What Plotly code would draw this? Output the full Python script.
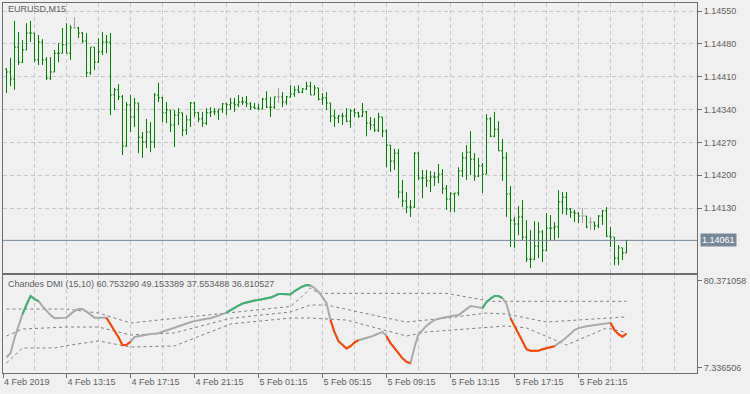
import plotly.graph_objects as go

# ---------------- data ----------------
bar_open = [1.14426, 1.14420, 1.14405, 1.14473, 1.14441, 1.14467, 1.14503, 1.14503, 1.14446, 1.14484,
            1.14446, 1.14407, 1.14420, 1.14460, 1.14460, 1.14478, 1.14460, 1.14514, 1.14514, 1.14503,
            1.14486, 1.14418, 1.14473, 1.14441, 1.14463, 1.14484, 1.14484, 1.14371, 1.14382, 1.14367,
            1.14262, 1.14350, 1.14324, 1.14354, 1.14281, 1.14271, 1.14292, 1.14271, 1.14371, 1.14365,
            1.14333, 1.14339, 1.14307, 1.14328, 1.14333, 1.14296, 1.14318, 1.14354, 1.14333, 1.14320,
            1.14311, 1.14333, 1.14335, 1.14335, 1.14341, 1.14352, 1.14350, 1.14354, 1.14350, 1.14356,
            1.14356, 1.14352, 1.14345, 1.14343, 1.14341, 1.14362, 1.14345, 1.14345, 1.14367, 1.14367,
            1.14356, 1.14367, 1.14373, 1.14382, 1.14377, 1.14384, 1.14390, 1.14371, 1.14386, 1.14362,
            1.14365, 1.14354, 1.14326, 1.14322, 1.14326, 1.14326, 1.14315, 1.14337, 1.14333, 1.14326,
            1.14335, 1.14311, 1.14307, 1.14296, 1.14324, 1.14294, 1.14264, 1.14230, 1.14247, 1.14164,
            1.14145, 1.14132, 1.14132, 1.14247, 1.14194, 1.14194, 1.14188, 1.14196, 1.14196, 1.14202,
            1.14171, 1.14149, 1.14160, 1.14162, 1.14209, 1.14237, 1.14249, 1.14234, 1.14198, 1.14220,
            1.14202, 1.14320, 1.14283, 1.14298, 1.14252, 1.14237, 1.14160, 1.14104, 1.14096, 1.14111,
            1.14068, 1.14021, 1.14021, 1.14049, 1.14079, 1.14040, 1.14087, 1.14087, 1.14090, 1.14143,
            1.14153, 1.14128, 1.14121, 1.14119, 1.14113, 1.14113, 1.14100, 1.14100, 1.14092, 1.14113,
            1.14124, 1.14070, 1.14068, 1.14023, 1.14045, 1.14034]
bar_high = [1.14428, 1.14450, 1.14529, 1.14505, 1.14488, 1.14524, 1.14529, 1.14503, 1.14499, 1.14490,
            1.14452, 1.14452, 1.14467, 1.14482, 1.14514, 1.14524, 1.14520, 1.14537, 1.14516, 1.14505,
            1.14503, 1.14473, 1.14473, 1.14492, 1.14505, 1.14499, 1.14503, 1.14386, 1.14394, 1.14371,
            1.14356, 1.14371, 1.14365, 1.14354, 1.14292, 1.14320, 1.14313, 1.14375, 1.14397, 1.14367,
            1.14356, 1.14339, 1.14339, 1.14343, 1.14333, 1.14328, 1.14356, 1.14356, 1.14335, 1.14335,
            1.14343, 1.14345, 1.14343, 1.14341, 1.14354, 1.14354, 1.14365, 1.14365, 1.14371, 1.14367,
            1.14369, 1.14356, 1.14354, 1.14352, 1.14365, 1.14379, 1.14367, 1.14367, 1.14386, 1.14377,
            1.14369, 1.14392, 1.14390, 1.14392, 1.14386, 1.14399, 1.14399, 1.14392, 1.14386, 1.14375,
            1.14377, 1.14354, 1.14339, 1.14328, 1.14333, 1.14343, 1.14341, 1.14343, 1.14335, 1.14354,
            1.14337, 1.14324, 1.14322, 1.14333, 1.14324, 1.14298, 1.14264, 1.14256, 1.14256, 1.14190,
            1.14164, 1.14147, 1.14249, 1.14249, 1.14211, 1.14211, 1.14209, 1.14207, 1.14224, 1.14213,
            1.14179, 1.14164, 1.14162, 1.14217, 1.14249, 1.14264, 1.14294, 1.14247, 1.14237, 1.14226,
            1.14330, 1.14324, 1.14335, 1.14315, 1.14277, 1.14249, 1.14177, 1.14111, 1.14134, 1.14147,
            1.14104, 1.14083, 1.14102, 1.14100, 1.14083, 1.14119, 1.14115, 1.14100, 1.14168, 1.14164,
            1.14164, 1.14130, 1.14126, 1.14121, 1.14130, 1.14113, 1.14111, 1.14100, 1.14115, 1.14126,
            1.14132, 1.14090, 1.14068, 1.14051, 1.14045, 1.14062]
bar_low = [1.14375, 1.14390, 1.14382, 1.14435, 1.14439, 1.14467, 1.14484, 1.14441, 1.14435, 1.14435,
           1.14403, 1.14403, 1.14420, 1.14441, 1.14460, 1.14460, 1.14446, 1.14514, 1.14492, 1.14482,
           1.14409, 1.14414, 1.14424, 1.14439, 1.14456, 1.14460, 1.14328, 1.14339, 1.14360, 1.14243,
           1.14260, 1.14292, 1.14303, 1.14247, 1.14237, 1.14258, 1.14249, 1.14258, 1.14356, 1.14313,
           1.14311, 1.14292, 1.14260, 1.14307, 1.14283, 1.14286, 1.14303, 1.14324, 1.14313, 1.14303,
           1.14307, 1.14324, 1.14328, 1.14318, 1.14333, 1.14328, 1.14339, 1.14335, 1.14345, 1.14350,
           1.14345, 1.14339, 1.14341, 1.14339, 1.14341, 1.14343, 1.14324, 1.14341, 1.14354, 1.14345,
           1.14350, 1.14365, 1.14367, 1.14375, 1.14375, 1.14382, 1.14371, 1.14371, 1.14360, 1.14350,
           1.14339, 1.14313, 1.14303, 1.14311, 1.14307, 1.14313, 1.14301, 1.14324, 1.14322, 1.14324,
           1.14283, 1.14296, 1.14292, 1.14292, 1.14281, 1.14217, 1.14207, 1.14211, 1.14151, 1.14132,
           1.14119, 1.14111, 1.14130, 1.14190, 1.14151, 1.14175, 1.14164, 1.14177, 1.14183, 1.14160,
           1.14126, 1.14121, 1.14121, 1.14156, 1.14196, 1.14190, 1.14200, 1.14188, 1.14196, 1.14162,
           1.14202, 1.14281, 1.14281, 1.14252, 1.14188, 1.14111, 1.14047, 1.14045, 1.14072, 1.14062,
           1.14015, 1.14002, 1.14019, 1.14023, 1.14015, 1.14038, 1.14062, 1.14062, 1.14066, 1.14117,
           1.14115, 1.14109, 1.14100, 1.14098, 1.14098, 1.14087, 1.14083, 1.14083, 1.14087, 1.14094,
           1.14068, 1.14047, 1.14008, 1.14008, 1.14019, 1.14034]
bar_close = [1.14420, 1.14405, 1.14473, 1.14441, 1.14467, 1.14503, 1.14503, 1.14446, 1.14484, 1.14446,
             1.14407, 1.14420, 1.14460, 1.14460, 1.14478, 1.14460, 1.14514, 1.14514, 1.14503, 1.14486,
             1.14418, 1.14473, 1.14441, 1.14463, 1.14484, 1.14484, 1.14371, 1.14382, 1.14367, 1.14262,
             1.14350, 1.14324, 1.14354, 1.14281, 1.14271, 1.14292, 1.14271, 1.14371, 1.14365, 1.14333,
             1.14339, 1.14307, 1.14328, 1.14333, 1.14296, 1.14318, 1.14354, 1.14333, 1.14320, 1.14311,
             1.14333, 1.14335, 1.14335, 1.14341, 1.14352, 1.14350, 1.14354, 1.14350, 1.14356, 1.14356,
             1.14352, 1.14345, 1.14343, 1.14341, 1.14362, 1.14345, 1.14345, 1.14367, 1.14367, 1.14356,
             1.14367, 1.14373, 1.14382, 1.14377, 1.14384, 1.14390, 1.14371, 1.14386, 1.14362, 1.14365,
             1.14354, 1.14326, 1.14322, 1.14326, 1.14326, 1.14315, 1.14337, 1.14333, 1.14326, 1.14335,
             1.14311, 1.14307, 1.14296, 1.14324, 1.14294, 1.14264, 1.14230, 1.14247, 1.14164, 1.14145,
             1.14132, 1.14132, 1.14247, 1.14194, 1.14194, 1.14188, 1.14196, 1.14196, 1.14202, 1.14171,
             1.14149, 1.14160, 1.14162, 1.14209, 1.14237, 1.14249, 1.14234, 1.14198, 1.14220, 1.14202,
             1.14320, 1.14283, 1.14298, 1.14252, 1.14237, 1.14160, 1.14104, 1.14096, 1.14111, 1.14068,
             1.14021, 1.14021, 1.14049, 1.14079, 1.14040, 1.14087, 1.14087, 1.14090, 1.14143, 1.14153,
             1.14128, 1.14121, 1.14119, 1.14113, 1.14113, 1.14090, 1.14100, 1.14092, 1.14113, 1.14124,
             1.14070, 1.14068, 1.14023, 1.14045, 1.14034, 1.14061]
doji_bars = [17, 68, 144, 146]

dmi = [19.1, 22.1, 33.3, 43.0, 51.2, 58.7, 64.7, 62.4, 60.9, 57.2,
       53.5, 50.5, 48.2, 48.2, 48.2, 48.6, 51.2, 53.5, 55.0, 55.0,
       53.1, 50.5, 48.6, 48.6, 48.6, 48.5, 43.7, 39.3, 34.0, 28.1,
       28.4, 30.5, 34.0, 34.8, 35.5, 35.9, 36.3, 36.6, 37.0, 38.1,
       39.3, 40.4, 41.1, 42.2, 43.4, 44.5, 45.2, 46.0, 46.7, 47.5,
       47.8, 48.2, 48.9, 50.1, 51.2, 52.3, 54.2, 56.1, 57.6, 59.1,
       60.0, 60.6, 61.3, 61.7, 62.2, 62.8, 63.6, 64.7, 66.2, 66.2,
       65.9, 65.9, 68.4, 70.3, 71.8, 72.9, 72.5, 70.7, 67.7, 63.9,
       59.4, 46.7, 37.8, 31.0, 28.1, 25.6, 27.3, 30.0, 31.8, 32.5,
       33.3, 34.3, 35.5, 37.0, 38.0, 34.8, 29.6, 25.8, 22.1, 18.3,
       15.7, 14.6, 26.6, 36.3, 39.3, 42.6, 44.9, 46.7, 47.8, 48.6,
       49.3, 49.7, 50.1, 50.5, 52.7, 55.3, 57.2, 56.8, 56.1, 55.7,
       60.2, 62.8, 64.7, 64.7, 63.2, 58.7, 48.2, 42.2, 37.0, 31.0,
       25.1, 23.9, 23.8, 23.9, 25.1, 25.8, 26.6, 27.3, 29.6, 31.4,
       34.0, 37.0, 39.3, 40.8, 41.6, 42.2, 42.6, 43.0, 43.7, 44.1,
       44.5, 44.7, 39.3, 36.3, 34.3, 36.81]
green_spans = [(4, 8), (55, 76), (119, 124)]
red_spans = [(25, 31), (81, 88), (95, 101), (126, 137), (151, 155)]

# floating levels, sampled at bar numbers
level_up_bars = [0, 15, 23, 31, 38, 56, 71, 74, 76, 78, 110, 121, 155]
level_up = [55.0, 55.0, 52.05, 44.6, 46.8, 52.05, 56.9, 64.7, 70.7, 66.7, 66.7, 60.75, 60.753290]
level_mid_bars = [0, 4, 15, 23, 31, 42, 56, 71, 76, 80, 95, 100, 110, 120, 125, 135, 155]
level_mid = [34.9, 40.1, 41.6, 41.6, 35.65, 37.2, 48.1, 52.8, 58.0, 58.0, 48.3, 45.3, 48.3, 52.05, 51.3, 45.3, 49.153389]
level_dn_bars = [0, 4, 12, 16, 23, 31, 42, 56, 71, 76, 85, 100, 105, 125, 130, 140, 150, 155]
level_dn = [14.8, 26.0, 26.0, 28.2, 31.2, 26.7, 27.5, 43.85, 48.3, 48.3, 46.8, 34.9, 37.9, 42.4, 40.9, 28.2, 40.9, 37.553488]

tick_prices = [1.14130, 1.14200, 1.14270, 1.14340, 1.14410, 1.14480, 1.14550]
last_price = 1.14061
dmi_scale = [7.336506, 80.371058]
time_labels = ["4 Feb 2019", "4 Feb 13:15", "4 Feb 17:15", "4 Feb 21:15", "5 Feb 01:15",
               "5 Feb 05:15", "5 Feb 09:15", "5 Feb 13:15", "5 Feb 17:15", "5 Feb 21:15"]
time_label_bars = [-0.875, 15, 31, 47, 63, 79, 95, 111, 127, 143]
legend_text = "Chandes DMI (15,10) 60.753290 49.153389 37.553488 36.810527"
symbol_text = "EURUSD,M15"

# ---------------- styling ----------------
BG = "#f0f0f0"
FRAME = "#6e6e6e"
GRID = "#c8c8c8"
TXT = "#606060"
FONT = "Liberation Sans"
BAR = "#008000"
DOJI = "#a0a0a0"
LEVEL = "#808080"

n = len(bar_close)
idx = list(range(n))
normal = [i for i in idx if i not in doji_bars]

fig = go.Figure()

def ohlc(ids, color):
    return go.Ohlc(
        x=ids,
        open=[bar_open[i] for i in ids], high=[bar_high[i] for i in ids],
        low=[bar_low[i] for i in ids], close=[bar_close[i] for i in ids],
        increasing=dict(line=dict(color=color, width=1)),
        decreasing=dict(line=dict(color=color, width=1)),
        tickwidth=0.35, xaxis="x", yaxis="y", showlegend=False, hoverinfo="skip")

fig.add_trace(ohlc(normal, BAR))
fig.add_trace(ohlc(doji_bars, DOJI))

for bx, lv in [(level_up_bars, level_up), (level_mid_bars, level_mid), (level_dn_bars, level_dn)]:
    fig.add_trace(go.Scatter(x=bx, y=lv, mode="lines", line=dict(color=LEVEL, width=1, dash="3px,3px"),
                             xaxis="x2", yaxis="y2", showlegend=False, hoverinfo="skip"))

fig.add_trace(go.Scatter(x=idx, y=dmi, mode="lines", line=dict(color="#a9a9a9", width=2),
                         xaxis="x2", yaxis="y2", showlegend=False, hoverinfo="skip"))

def span_series(spans):
    ys = [None] * n
    for a, b in spans:
        for i in range(a, b + 1):
            ys[i] = dmi[i]
    return ys

fig.add_trace(go.Scatter(x=idx, y=span_series(green_spans), mode="lines",
                         line=dict(color="#3cb371", width=2), connectgaps=False,
                         xaxis="x2", yaxis="y2", showlegend=False, hoverinfo="skip"))
fig.add_trace(go.Scatter(x=idx, y=span_series(red_spans), mode="lines",
                         line=dict(color="#ff4500", width=2), connectgaps=False,
                         xaxis="x2", yaxis="y2", showlegend=False, hoverinfo="skip"))

xr = [-0.875, 172.625]
grid_bars = list(range(7, 173, 8))

axis_common = dict(showline=True, linecolor=FRAME, linewidth=1, mirror=True, zeroline=False)

fig.update_layout(
    width=750, height=394,
    margin=dict(l=3, r=53, t=3, b=21),
    paper_bgcolor=BG, plot_bgcolor=BG,
    font=dict(family=FONT, size=9, color=TXT),
    showlegend=False,
    xaxis=dict(domain=[0, 1], range=xr, anchor="y", tickvals=grid_bars, showticklabels=False,
               ticks="", showgrid=True, gridcolor=GRID, griddash="4px,3px", gridwidth=1,
               rangeslider=dict(visible=False), **axis_common),
    yaxis=dict(domain=[0.2711, 1], range=[1.139921, 1.145671], side="right", anchor="x",
               tickvals=tick_prices, ticktext=[f"{p:.5f}" for p in tick_prices],
               ticks="outside", ticklen=4, tickcolor=FRAME, showgrid=True, gridcolor=GRID,
               griddash="4px,3px", **axis_common),
    xaxis2=dict(domain=[0, 1], range=xr, anchor="y2", tickvals=time_label_bars, ticktext=time_labels,
                ticks="outside", ticklen=4, tickcolor=FRAME, ticklabelposition="outside right",
                showgrid=False,
                minor=dict(tickvals=grid_bars, showgrid=True, gridcolor=GRID, griddash="4px,3px", ticks=""),
                **axis_common),
    yaxis2=dict(domain=[0, 0.2649], range=dmi_scale, side="right", anchor="x2",
                tickvals=[75.90, 11.29], ticktext=[f"{dmi_scale[1]:.6f}", f"{dmi_scale[0]:.6f}"],
                ticks="outside", ticklen=4, tickcolor=FRAME, showgrid=False, **axis_common),
)

fig.add_shape(type="line", xref="x domain", yref="y", x0=0, x1=1, y0=last_price, y1=last_price,
              line=dict(color="#778899", width=1))
fig.add_annotation(xref="x domain", yref="y", x=1, y=last_price, xanchor="left", yanchor="middle",
                   xshift=3, text=f"{last_price:.5f}", showarrow=False, bgcolor="#778899",
                   font=dict(color="white", size=9, family=FONT), borderpad=1)
fig.add_annotation(xref="x domain", yref="y domain", x=0.005, y=0.978, xanchor="left", yanchor="middle",
                   text=symbol_text, showarrow=False, font=dict(color=TXT, size=9, family=FONT))
fig.add_annotation(xref="x domain", yref="y2 domain", x=0.005, y=0.908, xanchor="left", yanchor="middle",
                   text=legend_text, showarrow=False, font=dict(color=TXT, size=9, family=FONT))

fig.write_html("out.html", config={"displayModeBar": False},
               post_script="document.body.style.margin='0';document.body.style.overflow='hidden';")
